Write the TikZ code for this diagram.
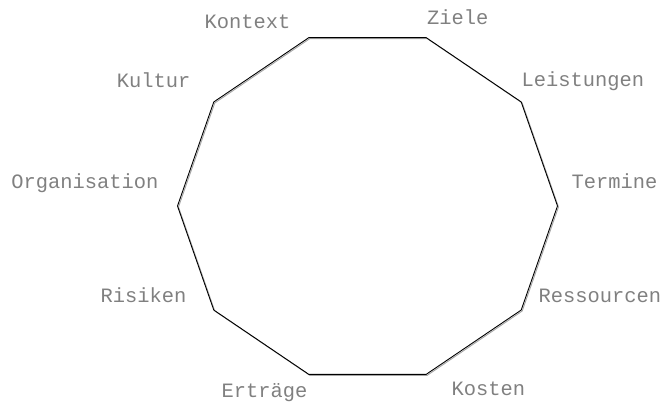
\documentclass[tikz,border=0pt]{standalone}
\usepackage{fontspec}
\setmonofont{Liberation Mono}
\usepackage{tikz}
\usetikzlibrary{positioning}
\definecolor{LabelGray}{RGB}{128, 128, 128}
\definecolor{EdgeGray}{RGB}{165, 165, 165}

\begin{document}
\begin{tikzpicture}[
    x=1pt, y=-1pt,
    lbl/.style={inner sep=0pt, text=LabelGray, font=\ttfamily\fontsize{20.4}{24}\selectfont},
    lblR/.style={lbl, anchor=base west},
    lblL/.style={lbl, anchor=base east},
    edge/.style={draw=black, line width=0.9pt, line join=miter},
    shadow/.style={draw=EdgeGray, line width=0.9pt, transform canvas={shift={(1pt,-1pt)}}}
]
\useasboundingbox (0,0) rectangle (662,403);
% corners of the decagon
\foreach \i in {0,...,9}
    \coordinate (p\i) at ({367.5+190*cos(36*\i)}, {206-177*sin(36*\i)});
\draw[shadow] (p0) \foreach \i in {1,...,9}{-- (p\i)} -- cycle;
\draw[edge] (p0) \foreach \i in {1,...,9}{-- (p\i)} -- cycle;
% labels
\node[lblR] (ziele) at (427,24.5) {Ziele};
\node[lblR] (leistungen) at (521.5,87) {Leistungen};
\node[lblR] (termine) at (571.5,189) {Termine};
\node[lblR] (ressourcen) at (538.5,303) {Ressourcen};
\node[lblR] (kosten) at (451.5,396) {Kosten};
\node[lblL] (kontext) at (290.5,29) {Kontext};
\node[lblL] (kultur) at (190.5,88) {Kultur};
\node[lblL] (organisation) at (158.5,189) {Organisation};
\node[lblL] (risiken) at (186.5,303) {Risiken};
\node[lblL] (ertraege) at (307.5,398) {Erträge};
\end{tikzpicture}
\end{document}
